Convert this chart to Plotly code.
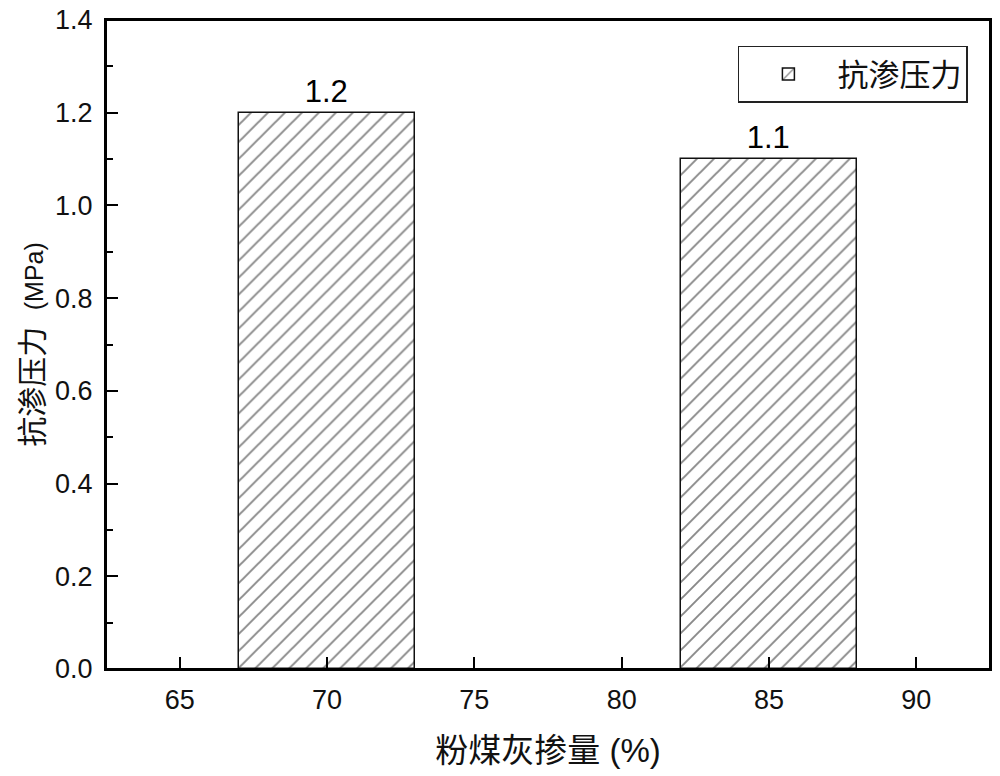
import plotly.graph_objects as go

# fly ash content (%) and impermeability pressure (MPa)
fly_ash = [70, 85]
pressure = [1.2, 1.1]
series_name = "抗渗压力"
x_title = "粉煤灰掺量 (%)"
y_title = "抗渗压力  <span style='font-size:25px'>(MPa)</span>"
x_ticks = [65, 70, 75, 80, 85, 90]

font_family = "Arial, Liberation Sans, Noto Sans CJK SC"

fig = go.Figure(go.Bar(
    x=fly_ash,
    y=pressure,
    width=6,
    name=series_name,
    text=[f"{v:.1f}" for v in pressure],
    textposition="outside",
    textfont=dict(size=31, color="black", family=font_family),
    marker=dict(
        color="white",
        line=dict(color="#111", width=1.5),
        pattern=dict(shape="/", fgcolor="#111", bgcolor="white",
                     size=12, solidity=0.16),
    ),
    cliponaxis=False,
    showlegend=True,
))

axis_common = dict(
    showline=True, linecolor="black", linewidth=2, mirror=True,
    ticks="inside", tickcolor="black", tickwidth=2, ticklen=12,
    showgrid=False, zeroline=False, automargin=False,
    ticklabelstandoff=6, ticklabeloverflow="allow",
    tickfont=dict(size=27, color="#111", family=font_family),
)

fig.update_layout(
    width=1000, height=776,
    paper_bgcolor="white", plot_bgcolor="white",
    margin=dict(l=106, r=10, t=20, b=107),
    xaxis=dict(range=[62.5, 92.5], tickvals=x_ticks,
               title=dict(text=x_title, standoff=24,
                          font=dict(size=33, color="#111", family=font_family)),
               **axis_common),
    yaxis=dict(range=[0, 1.4], dtick=0.2, tickformat=".1f",
               minor=dict(dtick=0.1, ticks="inside", ticklen=7,
                          tickcolor="black", tickwidth=2),
               title=dict(text=y_title, standoff=3,
                          font=dict(size=30, color="#111", family=font_family)),
               **axis_common),
    legend=dict(x=0.975, y=0.96, xanchor="right", yanchor="top",
                bordercolor="#222", borderwidth=1.5, bgcolor="white",
                font=dict(size=31, color="#111", family=font_family),
                itemwidth=88),
    bargap=0,
)

# frame around the plot area
fig.add_shape(type="rect", xref="x domain", yref="y domain",
              x0=0, x1=1, y0=0, y1=1, line=dict(color="black", width=2),
              layer="above")

# drop the default body margin so the figure sits at the page corner
fig.write_html("out.html", config={"displayModeBar": False},
               post_script="document.body.style.margin = '0';")
